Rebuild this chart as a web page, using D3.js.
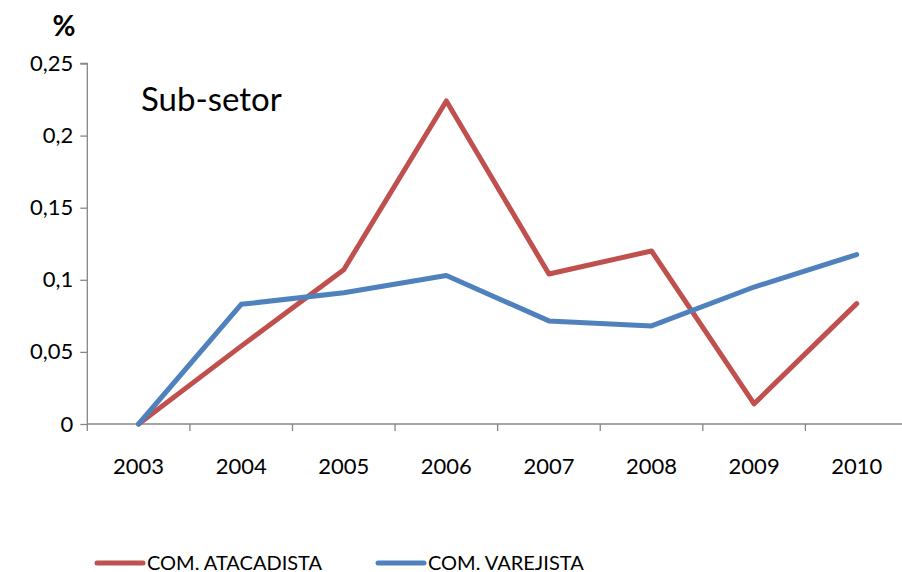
<!DOCTYPE html>
<html>
<head>
<meta charset="utf-8">
<script src="https://cdn.jsdelivr.net/npm/d3@7"></script>
<style>
  body { margin: 0; background: #fff; }
  text { font-family: Lato, "Open Sans", sans-serif; fill: #000; }
</style>
</head>
<body>
<div id="chart"></div>
<script>
// data
var years = ['2003','2004','2005','2006','2007','2008','2009','2010'];
var atacadista = [0, 0.054, 0.107, 0.224, 0.104, 0.120, 0.014, 0.0835];
var varejista  = [0, 0.083, 0.091, 0.103, 0.0715, 0.068, 0.095, 0.1175];
var yTicks = [0, 0.05, 0.1, 0.15, 0.2, 0.25];
var seriesNames = ['COM. ATACADISTA', 'COM. VAREJISTA'];
var seriesColors = ['#C0504D', '#4F81BD'];

var width = 902, height = 572;
var plotLeft = 87.3, plotRight = 908, plotTop = 63.5, plotBottom = 424;

var svg = d3.select('#chart').append('svg')
    .attr('width', width)
    .attr('height', height);

var x = d3.scaleBand().domain(years).range([plotLeft, plotRight]);
var y = d3.scaleLinear().domain([0, 0.25]).range([plotBottom, plotTop]);

var fmt = function(d) { return String(d).replace('.', ','); };

// y axis
var gy = svg.append('g')
    .attr('transform', 'translate(' + plotLeft + ',0)')
    .call(d3.axisLeft(y).tickValues(yTicks).tickSize(7).tickPadding(7).tickFormat(fmt));

// x axis (ticks between categories)
var gx = svg.append('g')
    .attr('transform', 'translate(0,' + plotBottom + ')')
    .call(d3.axisBottom(x).tickSize(0).tickPadding(34));

var bounds = years.map(function(d) { return x(d); }).concat([plotRight]);
svg.append('g').selectAll('line')
    .data(bounds)
  .enter().append('line')
    .attr('x1', function(d) { return d; })
    .attr('x2', function(d) { return d; })
    .attr('y1', plotBottom)
    .attr('y2', plotBottom + 7)
    .attr('stroke', '#868686')
    .attr('stroke-width', 1.3);

[gx, gy].forEach(function(g) {
  g.selectAll('.domain').attr('stroke', '#868686').attr('stroke-width', 1.3);
  g.selectAll('.tick line').attr('stroke', '#868686').attr('stroke-width', 1.3);
  g.selectAll('.tick text')
    .attr('font-family', 'Lato, "Open Sans", sans-serif')
    .attr('font-size', 22)
    .attr('fill', '#000');
});
gy.select('.domain').attr('d', 'M-7,' + plotTop + 'H0V' + plotBottom);
gx.select('.domain').attr('d', 'M' + plotLeft + ',0H' + plotRight);

// lines
var line = d3.line()
    .x(function(d, i) { return x(years[i]) + x.bandwidth() / 2; })
    .y(function(d) { return y(d); });

[atacadista, varejista].forEach(function(s, i) {
  svg.append('path')
      .datum(s)
      .attr('fill', 'none')
      .attr('stroke', seriesColors[i])
      .attr('stroke-width', 5)
      .attr('stroke-linejoin', 'round')
      .attr('stroke-linecap', 'round')
      .attr('d', line);
});

// labels
svg.append('text')
    .attr('x', 64)
    .attr('y', 36)
    .attr('text-anchor', 'middle')
    .attr('font-weight', 'bold')
    .attr('font-size', 28)
    .text('%');

svg.append('text')
    .attr('x', 141)
    .attr('y', 111)
    .attr('font-size', 33)
    .text('Sub-setor');

// legend
var legendX = [97, 378];
var leg = svg.append('g').selectAll('g')
    .data(seriesNames)
  .enter().append('g')
    .attr('transform', function(d, i) { return 'translate(' + legendX[i] + ',563)'; });

leg.append('line')
    .attr('x1', 0).attr('x2', 46)
    .attr('stroke', function(d, i) { return seriesColors[i]; })
    .attr('stroke-width', 5)
    .attr('stroke-linecap', 'round');

leg.append('text')
    .attr('x', 50)
    .attr('y', 6.5)
    .attr('font-size', 20)
    .text(function(d) { return d; });
</script>
</body>
</html>
